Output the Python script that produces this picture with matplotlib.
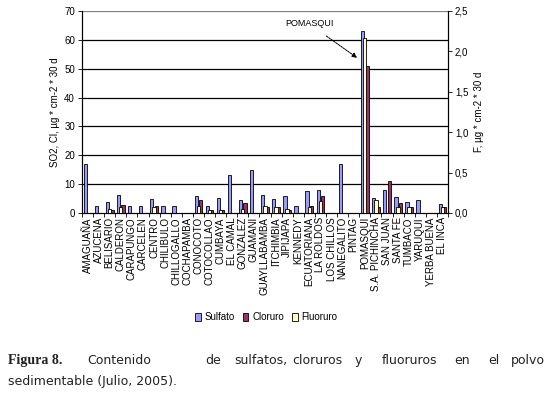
import numpy as np
import matplotlib.pyplot as plt
from matplotlib.patches import Patch

zonas = ['AMAGUAÑA', 'AZUCENA', 'BELISARIO', 'CALDERON', 'CARAPUNGO', 'CARCELEN',
         'CENTRO', 'CHILIBULO', 'CHILLOGALLO', 'COCHAPAMBA', 'CONOCOTO', 'COTOCOLLAO',
         'CUMBAYA', 'EL CAMAL', 'GONZALEZ', 'GUAMANI', 'GUAYLLABAMBA', 'ITCHIMBIA',
         'JIPIJAPA', 'KENNEDY', 'ECUATORIANA', 'LA ROLDOS', 'LOS CHILLOS', 'NANEGALITO',
         'PINTAG', 'POMASQUI', 'S.A. PICHINCHA', 'SAN JUAN', 'SANTA FE', 'TUMBACO',
         'YARUQUI', 'YERBA BUENA', 'EL INCA']
sulfato = [16.9, 2.4, 3.9, 6.3, 2.4, 2.4, 4.7, 2.4, 2.4, 0, 5.9, 2.4, 5.1, 13.1, 4.4, 14.9,
           6.3, 5.0, 5.9, 2.4, 7.6, 7.9, 0, 16.9, 0, 62.9, 5.2, 8.0, 5.4, 3.9, 4.5, 0, 3.0]
cloruro = [0, 0, 1.0, 2.7, 0, 0, 2.4, 0, 0, 0, 4.4, 1.1, 1.2, 0, 3.6, 0,
           2.0, 2.0, 1.2, 0, 2.3, 6.0, 0, 0, 0, 51.0, 2.1, 11.0, 3.6, 2.0, 0, 0, 2.1]
fluoruro = [0, 0, 0.045, 0.08, 0, 0, 0.07, 0, 0, 0, 0.085, 0.04, 0.04, 0, 0.045, 0,
            0.085, 0.07, 0.055, 0, 0.07, 0.15, 0, 0, 0, 2.17, 0.16, 0, 0.07, 0.07, 0, 0, 0.08]

c_s = '#9999FF'
c_c = '#993366'
c_f = '#FFFFCC'

fig = plt.figure(figsize=(5.5, 3.97), dpi=100)
ax = fig.add_axes([0.149, 0.4635, 0.6655, 0.5088])
ax2 = ax.twinx()

x = np.arange(len(zonas))
w = 0.3
ax.bar(x - 0.2, sulfato, w, color=c_s, edgecolor='black', linewidth=0.6, zorder=3)
ax.bar(x + 0.2, cloruro, w, color=c_c, edgecolor='black', linewidth=0.6, zorder=3)
ax2.bar(x, fluoruro, w, color=c_f, edgecolor='black', linewidth=0.6, zorder=3)

ax.set_xlim(-0.5, len(zonas) - 0.5)
ax.set_ylim(0, 70)
ax2.set_ylim(0, 2.5)
ax.set_yticks(range(0, 71, 10))
ax2.set_yticks(np.arange(0, 2.51, 0.5))
ax2.set_yticklabels([f'{v:.1f}'.replace('.', ',') for v in np.arange(0, 2.51, 0.5)])

for v in range(10, 71, 10):
    ax.axhline(v, color='black' if v < 70 else '#808080', linewidth=0.9, zorder=1)

ax.set_xticks(x)
ax.set_xticklabels(zonas, rotation=90, fontsize=7, family='Liberation Sans')
ax.set_xticks(np.arange(-0.5, len(zonas), 1), minor=True)
ax.tick_params(axis='x', which='major', length=0, pad=3)
ax.tick_params(axis='x', which='minor', length=3, width=0.6)
ax.tick_params(axis='y', labelsize=7, length=3, width=0.6, pad=2)
ax2.tick_params(axis='y', labelsize=7, length=3, width=0.6, pad=2)
for a in (ax, ax2):
    a.spines['top'].set_visible(False)
    for s in ('left', 'right', 'bottom'):
        a.spines[s].set_linewidth(0.8)
    for t in a.get_yticklabels():
        t.set_family('Liberation Sans')

ax.set_ylabel('SO2, Cl, µg * cm-2 * 30 d', fontsize=7, family='Liberation Sans', labelpad=3)
ax2.set_ylabel('F, µg * cm-2 * 30 d', fontsize=7, family='Liberation Sans', labelpad=4)

ax.annotate('POMASQUI', xy=(24.3, 53.8), xytext=(20.0, 65.5), fontsize=6.5,
            family='Liberation Sans', ha='center', va='center', zorder=5,
            arrowprops=dict(arrowstyle='-|>', color='black', lw=0.7, linestyle=(0, (2, 1)),
                            shrinkA=6, shrinkB=0, mutation_scale=7))

handles = [Patch(facecolor=c_s, edgecolor='black', linewidth=0.6),
           Patch(facecolor=c_c, edgecolor='black', linewidth=0.6),
           Patch(facecolor=c_f, edgecolor='black', linewidth=0.6)]
fig.legend(handles, ['Sulfato', 'Cloruro', 'Fluoruro'], loc='center', ncol=3,
           bbox_to_anchor=(0.484, 0.2015), frameon=False, fontsize=7,
           prop={'family': 'Liberation Sans', 'size': 7}, handlelength=0.6, handleheight=0.9,
           handletextpad=0.4, columnspacing=0.8)

# caption (justified by hand)
y1 = 0.092
fig.text(8 / 550, y1, 'Figura 8.', fontsize=10, family='Liberation Serif', weight='bold',
         va='center', color='#222222')
words = ['Contenido', 'de', 'sulfatos,', 'cloruros', 'y', 'fluoruros', 'en', 'el']
xs = [87, 205, 234, 292, 355, 382, 454, 488]
for wd, px in zip(words, xs):
    fig.text(px / 550, y1, wd, fontsize=9, family='DejaVu Sans', va='center', color='#222222')
fig.text(545 / 550, y1, 'polvo', fontsize=9, family='DejaVu Sans', va='center', ha='right',
         color='#222222')
fig.text(8 / 550, 0.04, 'sedimentable (Julio, 2005).', fontsize=9, family='DejaVu Sans',
         va='center', color='#222222')

plt.savefig('out.png', dpi=100)
